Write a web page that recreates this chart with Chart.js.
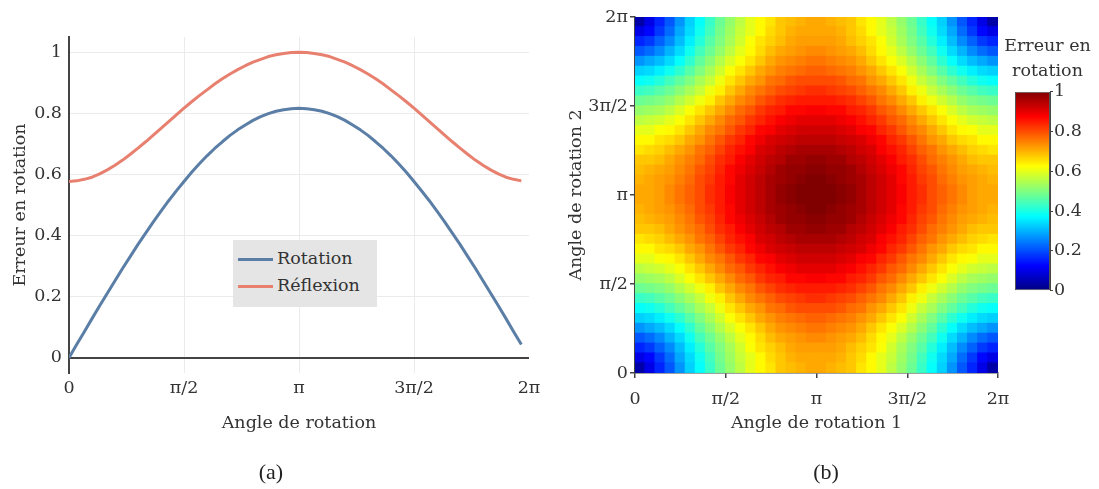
<!DOCTYPE html>
<html><head><meta charset="utf-8">
<script src="https://cdn.jsdelivr.net/npm/chart.js@4.4.1/dist/chart.umd.min.js"></script>
<style>
html,body{margin:0;padding:0;background:#fff;width:1099px;height:489px;overflow:hidden;font-family:"DejaVu Serif",serif;color:#333}
canvas{position:absolute;top:0}
#c1{left:0}#c2{left:549px}#c3{left:1000px}
.legend{position:absolute;left:233px;top:240px;width:144px;height:67px;background:#e5e5e5}
.item{position:absolute;left:5px;height:24px;font-size:17.5px;line-height:24px;white-space:nowrap}
.sw{display:inline-block;width:35px;height:3px;vertical-align:middle;margin-right:4px}
.cap{position:absolute;width:60px;text-align:center;font-family:"Liberation Serif",serif;font-size:22px;line-height:26px;color:#222}
.cbt{position:absolute;left:995px;top:33px;width:105px;text-align:center;font-size:17.5px;line-height:25px}
</style></head>
<body>
<canvas id="c1" width="549" height="489"></canvas>
<canvas id="c2" width="480" height="489"></canvas>
<canvas id="c3" width="99" height="489"></canvas>
<div class="legend">
  <div class="item" style="top:6px"><span class="sw" style="background:#5a7ea6"></span>Rotation</div>
  <div class="item" style="top:33px"><span class="sw" style="background:#e8806f"></span>Réflexion</div>
</div>
<div class="cbt">Erreur en<br>rotation</div>
<div class="cap" style="left:241px;top:459px">(a)</div>
<div class="cap" style="left:796px;top:459px">(b)</div>
<script>
// ---------- data (a) ----------
const angleDeg = [0,6,12,18,24,30,36,42,48,54,60,66,72,78,84,90,96,102,108,114,120,126,132,138,144,150,156,162,168,174,180,186,192,198,204,210,216,222,228,234,240,246,252,258,264,270,276,282,288,294,300,306,312,318,324,330,336,342,348,354];
const rotationErr = [0,0.043,0.085,0.128,0.170,0.211,0.252,0.293,0.332,0.371,0.408,0.445,0.480,0.514,0.546,0.577,0.607,0.635,0.661,0.685,0.707,0.728,0.746,0.762,0.777,0.789,0.799,0.807,0.812,0.815,0.817,0.815,0.812,0.807,0.799,0.789,0.777,0.762,0.746,0.728,0.707,0.685,0.661,0.635,0.607,0.577,0.546,0.514,0.480,0.445,0.408,0.371,0.332,0.293,0.252,0.211,0.170,0.128,0.085,0.043];
const reflexionErr = [0.577,0.579,0.584,0.591,0.602,0.615,0.630,0.647,0.666,0.686,0.707,0.729,0.751,0.773,0.795,0.817,0.838,0.858,0.877,0.896,0.913,0.929,0.943,0.956,0.968,0.977,0.986,0.992,0.996,0.999,1.000,0.999,0.996,0.992,0.986,0.977,0.968,0.956,0.943,0.929,0.913,0.896,0.877,0.858,0.838,0.817,0.795,0.773,0.751,0.729,0.707,0.686,0.666,0.647,0.630,0.615,0.602,0.591,0.584,0.579];
const angleTickValues = [0,90,180,270,360];
const angleTickLabels = ['0','π/2','π','3π/2','2π'];
const errTickValues = [0,0.2,0.4,0.6,0.8,1];
const errTickLabels = ['0','0.2','0.4','0.6','0.8','1'];
// ---------- data (b) ----------
const heatAngle1 = [5,15,25,35,45,55,65,75,85,95,105,115,125,135,145,155,165,175,185,195,205,215,225,235,245,255,265,275,285,295,305,315,325,335,345,355];
const heatAngle2 = [5,15,25,35,45,55,65,75,85,95,105,115,125,135,145,155,165,175,185,195,205,215,225,235,245,255,265,275,285,295,305,315,325,335,345,355];
const heatError = [
[0.04,0.10,0.16,0.21,0.27,0.33,0.38,0.43,0.48,0.52,0.56,0.60,0.63,0.65,0.68,0.69,0.70,0.71,0.71,0.70,0.69,0.68,0.65,0.63,0.60,0.56,0.52,0.48,0.43,0.38,0.33,0.27,0.21,0.16,0.10,0.04],
[0.10,0.13,0.18,0.23,0.29,0.34,0.39,0.44,0.49,0.53,0.57,0.60,0.63,0.66,0.68,0.70,0.71,0.71,0.71,0.71,0.70,0.68,0.66,0.63,0.60,0.57,0.53,0.49,0.44,0.39,0.34,0.29,0.23,0.18,0.13,0.10],
[0.16,0.18,0.22,0.26,0.31,0.36,0.41,0.46,0.50,0.54,0.58,0.62,0.65,0.67,0.69,0.71,0.72,0.72,0.72,0.72,0.71,0.69,0.67,0.65,0.62,0.58,0.54,0.50,0.46,0.41,0.36,0.31,0.26,0.22,0.18,0.16],
[0.21,0.23,0.26,0.30,0.34,0.39,0.44,0.48,0.52,0.56,0.60,0.63,0.66,0.69,0.71,0.72,0.73,0.74,0.74,0.73,0.72,0.71,0.69,0.66,0.63,0.60,0.56,0.52,0.48,0.44,0.39,0.34,0.30,0.26,0.23,0.21],
[0.27,0.29,0.31,0.34,0.38,0.42,0.47,0.51,0.55,0.59,0.62,0.65,0.68,0.71,0.73,0.74,0.75,0.76,0.76,0.75,0.74,0.73,0.71,0.68,0.65,0.62,0.59,0.55,0.51,0.47,0.42,0.38,0.34,0.31,0.29,0.27],
[0.33,0.34,0.36,0.39,0.42,0.46,0.50,0.54,0.58,0.62,0.65,0.68,0.71,0.73,0.75,0.76,0.77,0.78,0.78,0.77,0.76,0.75,0.73,0.71,0.68,0.65,0.62,0.58,0.54,0.50,0.46,0.42,0.39,0.36,0.34,0.33],
[0.38,0.39,0.41,0.44,0.47,0.50,0.54,0.57,0.61,0.65,0.68,0.71,0.73,0.76,0.77,0.79,0.80,0.80,0.80,0.80,0.79,0.77,0.76,0.73,0.71,0.68,0.65,0.61,0.57,0.54,0.50,0.47,0.44,0.41,0.39,0.38],
[0.43,0.44,0.46,0.48,0.51,0.54,0.57,0.61,0.64,0.68,0.71,0.74,0.76,0.78,0.80,0.81,0.82,0.83,0.83,0.82,0.81,0.80,0.78,0.76,0.74,0.71,0.68,0.64,0.61,0.57,0.54,0.51,0.48,0.46,0.44,0.43],
[0.48,0.49,0.50,0.52,0.55,0.58,0.61,0.64,0.68,0.71,0.74,0.76,0.79,0.81,0.83,0.84,0.85,0.85,0.85,0.85,0.84,0.83,0.81,0.79,0.76,0.74,0.71,0.68,0.64,0.61,0.58,0.55,0.52,0.50,0.49,0.48],
[0.52,0.53,0.54,0.56,0.59,0.62,0.65,0.68,0.71,0.74,0.77,0.79,0.82,0.84,0.85,0.87,0.87,0.88,0.88,0.87,0.87,0.85,0.84,0.82,0.79,0.77,0.74,0.71,0.68,0.65,0.62,0.59,0.56,0.54,0.53,0.52],
[0.56,0.57,0.58,0.60,0.62,0.65,0.68,0.71,0.74,0.77,0.79,0.82,0.84,0.86,0.88,0.89,0.90,0.90,0.90,0.90,0.89,0.88,0.86,0.84,0.82,0.79,0.77,0.74,0.71,0.68,0.65,0.62,0.60,0.58,0.57,0.56],
[0.60,0.60,0.62,0.63,0.65,0.68,0.71,0.74,0.76,0.79,0.82,0.84,0.87,0.88,0.90,0.91,0.92,0.92,0.92,0.92,0.91,0.90,0.88,0.87,0.84,0.82,0.79,0.76,0.74,0.71,0.68,0.65,0.63,0.62,0.60,0.60],
[0.63,0.63,0.65,0.66,0.68,0.71,0.73,0.76,0.79,0.82,0.84,0.87,0.89,0.91,0.92,0.93,0.94,0.94,0.94,0.94,0.93,0.92,0.91,0.89,0.87,0.84,0.82,0.79,0.76,0.73,0.71,0.68,0.66,0.65,0.63,0.63],
[0.65,0.66,0.67,0.69,0.71,0.73,0.76,0.78,0.81,0.84,0.86,0.88,0.91,0.92,0.94,0.95,0.96,0.96,0.96,0.96,0.95,0.94,0.92,0.91,0.88,0.86,0.84,0.81,0.78,0.76,0.73,0.71,0.69,0.67,0.66,0.65],
[0.68,0.68,0.69,0.71,0.73,0.75,0.77,0.80,0.83,0.85,0.88,0.90,0.92,0.94,0.95,0.97,0.97,0.98,0.98,0.97,0.97,0.95,0.94,0.92,0.90,0.88,0.85,0.83,0.80,0.77,0.75,0.73,0.71,0.69,0.68,0.68],
[0.69,0.70,0.71,0.72,0.74,0.76,0.79,0.81,0.84,0.87,0.89,0.91,0.93,0.95,0.97,0.98,0.98,0.99,0.99,0.98,0.98,0.97,0.95,0.93,0.91,0.89,0.87,0.84,0.81,0.79,0.76,0.74,0.72,0.71,0.70,0.69],
[0.70,0.71,0.72,0.73,0.75,0.77,0.80,0.82,0.85,0.87,0.90,0.92,0.94,0.96,0.97,0.98,0.99,1.00,1.00,0.99,0.98,0.97,0.96,0.94,0.92,0.90,0.87,0.85,0.82,0.80,0.77,0.75,0.73,0.72,0.71,0.70],
[0.71,0.71,0.72,0.74,0.76,0.78,0.80,0.83,0.85,0.88,0.90,0.92,0.94,0.96,0.98,0.99,1.00,1.00,1.00,1.00,0.99,0.98,0.96,0.94,0.92,0.90,0.88,0.85,0.83,0.80,0.78,0.76,0.74,0.72,0.71,0.71],
[0.71,0.71,0.72,0.74,0.76,0.78,0.80,0.83,0.85,0.88,0.90,0.92,0.94,0.96,0.98,0.99,1.00,1.00,1.00,1.00,0.99,0.98,0.96,0.94,0.92,0.90,0.88,0.85,0.83,0.80,0.78,0.76,0.74,0.72,0.71,0.71],
[0.70,0.71,0.72,0.73,0.75,0.77,0.80,0.82,0.85,0.87,0.90,0.92,0.94,0.96,0.97,0.98,0.99,1.00,1.00,0.99,0.98,0.97,0.96,0.94,0.92,0.90,0.87,0.85,0.82,0.80,0.77,0.75,0.73,0.72,0.71,0.70],
[0.69,0.70,0.71,0.72,0.74,0.76,0.79,0.81,0.84,0.87,0.89,0.91,0.93,0.95,0.97,0.98,0.98,0.99,0.99,0.98,0.98,0.97,0.95,0.93,0.91,0.89,0.87,0.84,0.81,0.79,0.76,0.74,0.72,0.71,0.70,0.69],
[0.68,0.68,0.69,0.71,0.73,0.75,0.77,0.80,0.83,0.85,0.88,0.90,0.92,0.94,0.95,0.97,0.97,0.98,0.98,0.97,0.97,0.95,0.94,0.92,0.90,0.88,0.85,0.83,0.80,0.77,0.75,0.73,0.71,0.69,0.68,0.68],
[0.65,0.66,0.67,0.69,0.71,0.73,0.76,0.78,0.81,0.84,0.86,0.88,0.91,0.92,0.94,0.95,0.96,0.96,0.96,0.96,0.95,0.94,0.92,0.91,0.88,0.86,0.84,0.81,0.78,0.76,0.73,0.71,0.69,0.67,0.66,0.65],
[0.63,0.63,0.65,0.66,0.68,0.71,0.73,0.76,0.79,0.82,0.84,0.87,0.89,0.91,0.92,0.93,0.94,0.94,0.94,0.94,0.93,0.92,0.91,0.89,0.87,0.84,0.82,0.79,0.76,0.73,0.71,0.68,0.66,0.65,0.63,0.63],
[0.60,0.60,0.62,0.63,0.65,0.68,0.71,0.74,0.76,0.79,0.82,0.84,0.87,0.88,0.90,0.91,0.92,0.92,0.92,0.92,0.91,0.90,0.88,0.87,0.84,0.82,0.79,0.76,0.74,0.71,0.68,0.65,0.63,0.62,0.60,0.60],
[0.56,0.57,0.58,0.60,0.62,0.65,0.68,0.71,0.74,0.77,0.79,0.82,0.84,0.86,0.88,0.89,0.90,0.90,0.90,0.90,0.89,0.88,0.86,0.84,0.82,0.79,0.77,0.74,0.71,0.68,0.65,0.62,0.60,0.58,0.57,0.56],
[0.52,0.53,0.54,0.56,0.59,0.62,0.65,0.68,0.71,0.74,0.77,0.79,0.82,0.84,0.85,0.87,0.87,0.88,0.88,0.87,0.87,0.85,0.84,0.82,0.79,0.77,0.74,0.71,0.68,0.65,0.62,0.59,0.56,0.54,0.53,0.52],
[0.48,0.49,0.50,0.52,0.55,0.58,0.61,0.64,0.68,0.71,0.74,0.76,0.79,0.81,0.83,0.84,0.85,0.85,0.85,0.85,0.84,0.83,0.81,0.79,0.76,0.74,0.71,0.68,0.64,0.61,0.58,0.55,0.52,0.50,0.49,0.48],
[0.43,0.44,0.46,0.48,0.51,0.54,0.57,0.61,0.64,0.68,0.71,0.74,0.76,0.78,0.80,0.81,0.82,0.83,0.83,0.82,0.81,0.80,0.78,0.76,0.74,0.71,0.68,0.64,0.61,0.57,0.54,0.51,0.48,0.46,0.44,0.43],
[0.38,0.39,0.41,0.44,0.47,0.50,0.54,0.57,0.61,0.65,0.68,0.71,0.73,0.76,0.77,0.79,0.80,0.80,0.80,0.80,0.79,0.77,0.76,0.73,0.71,0.68,0.65,0.61,0.57,0.54,0.50,0.47,0.44,0.41,0.39,0.38],
[0.33,0.34,0.36,0.39,0.42,0.46,0.50,0.54,0.58,0.62,0.65,0.68,0.71,0.73,0.75,0.76,0.77,0.78,0.78,0.77,0.76,0.75,0.73,0.71,0.68,0.65,0.62,0.58,0.54,0.50,0.46,0.42,0.39,0.36,0.34,0.33],
[0.27,0.29,0.31,0.34,0.38,0.42,0.47,0.51,0.55,0.59,0.62,0.65,0.68,0.71,0.73,0.74,0.75,0.76,0.76,0.75,0.74,0.73,0.71,0.68,0.65,0.62,0.59,0.55,0.51,0.47,0.42,0.38,0.34,0.31,0.29,0.27],
[0.21,0.23,0.26,0.30,0.34,0.39,0.44,0.48,0.52,0.56,0.60,0.63,0.66,0.69,0.71,0.72,0.73,0.74,0.74,0.73,0.72,0.71,0.69,0.66,0.63,0.60,0.56,0.52,0.48,0.44,0.39,0.34,0.30,0.26,0.23,0.21],
[0.16,0.18,0.22,0.26,0.31,0.36,0.41,0.46,0.50,0.54,0.58,0.62,0.65,0.67,0.69,0.71,0.72,0.72,0.72,0.72,0.71,0.69,0.67,0.65,0.62,0.58,0.54,0.50,0.46,0.41,0.36,0.31,0.26,0.22,0.18,0.16],
[0.10,0.13,0.18,0.23,0.29,0.34,0.39,0.44,0.49,0.53,0.57,0.60,0.63,0.66,0.68,0.70,0.71,0.71,0.71,0.71,0.70,0.68,0.66,0.63,0.60,0.57,0.53,0.49,0.44,0.39,0.34,0.29,0.23,0.18,0.13,0.10],
[0.04,0.10,0.16,0.21,0.27,0.33,0.38,0.43,0.48,0.52,0.56,0.60,0.63,0.65,0.68,0.69,0.70,0.71,0.71,0.70,0.69,0.68,0.65,0.63,0.60,0.56,0.52,0.48,0.43,0.38,0.33,0.27,0.21,0.16,0.10,0.04]
];
const colorbarTicks = [0,0.2,0.4,0.6,0.8,1];
const colorbarLabels = ['0','0.2','0.4','0.6','0.8','1'];

// ---------- styles ----------
const FONT = {family:'"DejaVu Serif", serif', size:17.5};
const TXT = '#333';
const AX = '#444';
Chart.defaults.font.family = FONT.family;
Chart.defaults.font.size = FONT.size;
Chart.defaults.color = TXT;
const JET = [[0,0,0,0.5],[0.125,0,0,1],[0.375,0,1,1],[0.625,1,1,0],[0.875,1,0,0],[1,0.5,0,0]];
function rgbOf(s){return 'rgb('+Math.round(s[1]*255)+','+Math.round(s[2]*255)+','+Math.round(s[3]*255)+')';}
function jet(v){
  v = Math.max(0, Math.min(1, v));
  for (let i = 1; i < JET.length; i++) {
    if (v <= JET[i][0]) {
      const a = JET[i-1], b = JET[i], t = (v - a[0]) / (b[0] - a[0]);
      return rgbOf([0, a[1]+(b[1]-a[1])*t, a[2]+(b[2]-a[2])*t, a[3]+(b[3]-a[3])*t]);
    }
  }
  return rgbOf(JET[JET.length-1]);
}
const setTicks = vals => s => { s.ticks = vals.map(v => ({value: v})); };
const labelFrom = (vals, labels) => v => { const i = vals.indexOf(v); return i >= 0 ? labels[i] : ''; };
const base = {responsive:false, animation:false, events:[], devicePixelRatio:1,
  plugins:{legend:{display:false}, tooltip:{enabled:false}}};

// ---------- chart (a) ----------
new Chart(document.getElementById('c1'), {
  type:'line',
  data:{datasets:[
    {label:'Rotation', data: angleDeg.map((a,i)=>({x:a, y:rotationErr[i]})), borderColor:'#5a7ea6', borderWidth:3, pointRadius:0, tension:0, borderJoinStyle:'round'},
    {label:'Réflexion', data: angleDeg.map((a,i)=>({x:a, y:reflexionErr[i]})), borderColor:'#e8806f', borderWidth:3, pointRadius:0, tension:0, borderJoinStyle:'round'}
  ]},
  options:Object.assign({}, base, {
    layout:{padding:{left:0, top:37, right:20, bottom:55.5}},
    scales:{
      x:{type:'linear', min:0, max:360, afterBuildTicks:setTicks(angleTickValues), afterFit:s=>{s.height=60.5;},
        ticks:{callback:labelFrom(angleTickValues, angleTickLabels), padding:4.5, maxRotation:0, autoSkip:false, color:TXT},
        grid:{color:c=>(c.tick && (c.tick.value===0 || c.tick.value===360)) ? 'rgba(0,0,0,0)' : '#ebebeb', drawTicks:false, lineWidth:1},
        border:{display:false},
        title:{display:true, text:'Angle de rotation', color:TXT, padding:{top:0, bottom:0}}},
      y:{type:'linear', min:-0.05, max:1.05, afterBuildTicks:setTicks(errTickValues), afterFit:s=>{s.width=69;},
        ticks:{callback:labelFrom(errTickValues, errTickLabels), padding:7, color:TXT},
        grid:{color:c=>(c.tick && c.tick.value===0) ? AX : '#ebebeb', lineWidth:c=>(c.tick && c.tick.value===0) ? 2 : 1, drawTicks:false},
        border:{display:true, color:AX, width:2},
        title:{display:true, text:'Erreur en rotation', color:TXT, padding:{top:9.5, bottom:0}}}
    }
  })
});

// ---------- chart (b) heatmap ----------
const half1 = (heatAngle1[1]-heatAngle1[0])/2;
const half2 = (heatAngle2[1]-heatAngle2[0])/2;
const heatDatasets = heatAngle2.map((a2,k)=>({
  data: heatAngle1.map((a1,j)=>({x:a1, y:[a2-half2, a2+half2], v:heatError[k][j]})),
  backgroundColor: c => (c.raw && c.raw.v !== undefined) ? jet(c.raw.v) : '#000',
  borderWidth:0, inflateAmount:0.7, grouped:false, barPercentage:1, categoryPercentage:1
}));
const heatAxisGrid = {drawOnChartArea:false, drawTicks:true, tickLength:5, color:AX, lineWidth:1.5, offset:false};
new Chart(document.getElementById('c2'), {
  type:'bar',
  data:{datasets:heatDatasets},
  options:Object.assign({}, base, {
    layout:{padding:{left:0, top:17, right:31, bottom:55.5}},
    scales:{
      x:{type:'linear', min:0, max:360, offset:false, z:1, afterBuildTicks:setTicks(angleTickValues), afterFit:s=>{s.height=60.5;},
        ticks:{callback:labelFrom(angleTickValues, angleTickLabels), padding:10.5, maxRotation:0, autoSkip:false, color:TXT},
        grid:heatAxisGrid, border:{display:true, color:AX, width:1.5},
        title:{display:true, text:'Angle de rotation 1', color:TXT, padding:{top:0, bottom:0}}},
      y:{type:'linear', min:0, max:360, z:1, afterBuildTicks:setTicks(angleTickValues), afterFit:s=>{s.width=86;},
        ticks:{callback:labelFrom(angleTickValues, angleTickLabels), padding:2, color:TXT},
        grid:heatAxisGrid, border:{display:true, color:AX, width:1.5},
        title:{display:true, text:'Angle de rotation 2', color:TXT, padding:{top:16.5, bottom:0}}}
    }
  })
});

// ---------- colorbar ----------
new Chart(document.getElementById('c3'), {
  type:'bar',
  data:{labels:[''], datasets:[{data:[[colorbarTicks[0], colorbarTicks[colorbarTicks.length-1]]],
    backgroundColor: c => {
      const ch = c.chart, ys = ch.scales && ch.scales.y;
      if (!ys || !ch.chartArea) return '#888';
      const y0 = ys.getPixelForValue(0), y1 = ys.getPixelForValue(1);
      if (!isFinite(y0) || !isFinite(y1) || y0 === y1) return '#888';
      const g = ch.ctx.createLinearGradient(0, y0, 0, y1);
      JET.forEach(s => g.addColorStop(s[0], rgbOf(s)));
      return g;
    },
    borderWidth:1, borderColor:'#555', borderSkipped:false, barPercentage:1, categoryPercentage:1, inflateAmount:0}]},
  options:Object.assign({}, base, {
    layout:{padding:{left:15, top:91.7, right:0, bottom:198.3}},
    scales:{
      x:{display:false},
      y:{position:'right', min:0, max:1, afterBuildTicks:setTicks(colorbarTicks), afterFit:s=>{s.width=49;},
        ticks:{callback:labelFrom(colorbarTicks, colorbarLabels), padding:1, color:TXT},
        grid:{drawOnChartArea:false, drawTicks:true, tickLength:3, color:AX, lineWidth:1},
        border:{display:true, color:AX, width:1}}
    }
  })
});
</script>
</body></html>
